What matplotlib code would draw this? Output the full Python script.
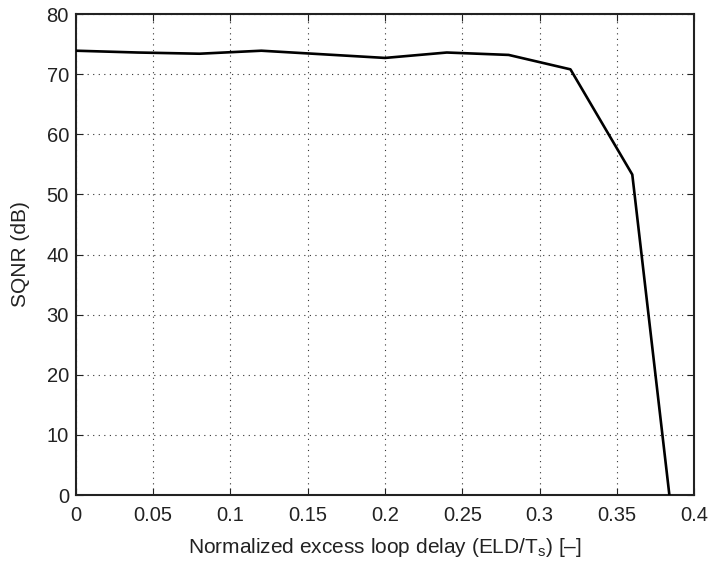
import matplotlib
matplotlib.use('Agg')
import matplotlib.pyplot as plt

plt.rcParams['font.family'] = ['Liberation Sans', 'DejaVu Sans']
plt.rcParams['mathtext.fontset'] = 'custom'
plt.rcParams['mathtext.rm'] = 'Liberation Sans'

# data
eld = [0.0, 0.04, 0.08, 0.12, 0.16, 0.20, 0.24, 0.28, 0.32, 0.36, 0.384]
sqnr = [73.9, 73.6, 73.4, 73.9, 73.3, 72.7, 73.6, 73.2, 70.8, 53.3, 0.0]

xticks = [0, 0.05, 0.1, 0.15, 0.2, 0.25, 0.3, 0.35, 0.4]
xticklabels = ['0', '0.05', '0.1', '0.15', '0.2', '0.25', '0.3', '0.35', '0.4']
yticks = [0, 10, 20, 30, 40, 50, 60, 70, 80]

fig = plt.figure(figsize=(7.09, 5.66), dpi=100)
ax = fig.add_axes([0.107, 0.1254, 0.872, 0.8498])

ax.plot(eld, sqnr, color='black', linewidth=1.9, zorder=3)

ax.set_xlim(0, 0.4)
ax.set_ylim(0, 80)
ax.set_xticks(xticks)
ax.set_xticklabels(xticklabels)
ax.set_yticks(yticks)
ax.tick_params(direction='in', labelsize=14.5, length=5, width=0.8, pad=5,
               top=True, right=True, colors='#222222')
ax.tick_params(axis='x', pad=8)
ax.grid(True, linestyle=(0, (1, 4)), color='#333333', linewidth=0.8)
for s in ax.spines.values():
    s.set_linewidth(1.5)
    s.set_color('#222222')

ax.set_xlabel(r'Normalized excess loop delay (ELD/T$_\mathrm{s}$) [–]', fontsize=15, color='#222222', labelpad=8)
ax.set_ylabel('SQNR (dB)', fontsize=15, color='#222222', labelpad=12)

fig.savefig('out.png', dpi=100)
